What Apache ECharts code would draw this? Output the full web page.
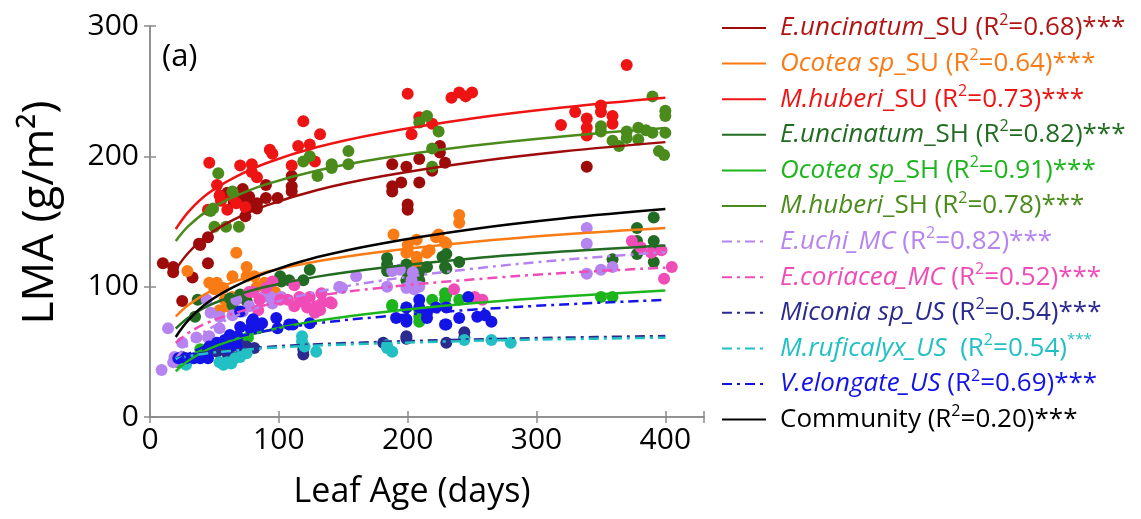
<!DOCTYPE html>
<html><head><meta charset="utf-8">
<script src="https://cdn.jsdelivr.net/npm/echarts@6/dist/echarts.min.js"></script>
<style>html,body{margin:0;padding:0;background:#fff}#c{width:1141px;height:519px}</style>
</head><body><div id="c"></div>
<script>
// ---------- DATA ----------
const xTicks = [0, 100, 200, 300, 400];
const yTicks = [0, 100, 200, 300];
const curveX = [20, 30, 45, 65, 90, 130, 180, 250, 320, 400];

const names = ['E.uncinatum_SU','Ocotea sp_SU','M.huberi_SU','E.uncinatum_SH','Ocotea sp_SH','M.huberi_SH',
  'E.uchi_MC','E.coriacea_MC','Miconia sp_US','M.ruficalyx_US','V.elongate_US','Community'];
const italicPart = ['E.uncinatum','Ocotea sp','M.huberi','E.uncinatum','Ocotea sp','M.huberi',
  'E.uchi_MC','E.coriacea_MC','Miconia sp_US','M.ruficalyx_US','V.elongate_US',''];
const plainPart = ['_SU','_SU','_SU','_SH','_SH','_SH','','','','','','Community'];
const r2 = ['0.68','0.64','0.73','0.82','0.91','0.78','0.82','0.52','0.54','0.54','0.69','0.20'];

// fitted curve values at curveX
const curveEuncSU = [113.1,126.2,139.6,151.4,162.2,174.2,184.7,195.5,203.7,210.9];
const curveOcoSU  = [77.1,86.2,95.5,103.7,111.2,119.5,126.8,134.3,140,145];
const curveMhubSU = [144.1,157.6,171.4,183.5,194.7,207.1,217.9,229,237.4,244.9];
const curveEuncSH = [67.9,76.4,85.2,92.8,99.9,107.7,114.5,121.6,126.9,131.6];
const curveOcoSH  = [35.1,43.4,51.9,59.3,66.2,73.8,80.4,87.3,92.4,97];
const curveMhubSH = [135,146.6,158.5,168.9,178.5,189.2,198.5,208.1,215.3,221.7];
const curveEuchi  = [44.9,55.8,67,76.8,85.9,96,104.7,113.7,120.5,126.5];
const curveEcori  = [56.9,64.6,72.5,79.5,85.9,93,99.2,105.5,110.4,114.6];
const curveMicon  = [45.1,47.4,49.7,51.8,53.7,55.8,57.6,59.5,60.9,62.1];
const curveMrufi  = [44.5,46.7,49,50.9,52.8,54.8,56.5,58.4,59.7,60.9];
const curveVelon  = [42,48.4,55,60.7,66,71.9,77,82.3,86.3,89.8];
const curveComm   = [61.4,74.5,88,99.8,110.6,122.7,133.2,144.1,152.3,159.5];

// observations [leaf age, LMA]
const ptsEuncSU = [[10,118],[18,115],[18,111],[38,133],[45,138],[45,118],[33,107],[25,89],[74,154],[72,175],[77,169],[83,164],[90,168],[90,178],[99,168],[110,185],[110,177],[110,173],[70,167],[76,162],[83,160],[39,132],[188,194],[188,177],[188,173],[195,180],[199,192],[200,163],[200,159],[209,198],[209,180],[219,189],[225,208],[225,203],[229,195],[339,192],[60,172],[65,165]];
const ptsOcoSU = [[29,112],[67,126],[46,103],[52,103],[50,98],[57,99],[58,90],[54,82],[64,108],[64,92],[70,92],[75,115],[75,108],[81,108],[83,100],[89,103],[97,96],[60,85],[189,140],[200,132],[200,127],[207,136],[207,123],[215,126],[222,138],[229,134],[207,119],[240,155],[240,149],[224,140],[230,133],[199,126],[217,128]];
const ptsMhubSU = [[46,195],[54,170],[55,166],[70,193],[79,194],[79,188],[83,184],[93,205],[95,202],[110,193],[115,208],[119,227],[124,209],[128,196],[132,217],[45,159],[60,159],[67,164],[74,161],[64,169],[52,178],[200,248],[209,230],[203,217],[219,225],[234,245],[240,249],[245,246],[250,249],[319,224],[330,234],[339,229],[339,222],[339,216],[350,239],[350,234],[359,231],[359,225],[370,270]];
const ptsEuncSH = [[37,90],[62,91],[70,94],[75,89],[102,104],[108,105],[101,108],[35,77],[64,86],[124,113],[119,105],[184,122],[184,117],[184,112],[199,117],[199,112],[199,105],[209,111],[209,105],[215,115],[227,123],[229,115],[230,125],[230,114],[240,119],[359,121],[378,145],[378,135],[378,125],[391,153],[391,135],[391,128],[391,119]];
const ptsOcoSH = [[39,52],[44,50],[67,59],[76,61],[22,42],[188,85],[188,86],[199,84],[209,82],[209,77],[209,73],[219,90],[229,95],[229,90],[230,94],[240,90],[350,92],[359,92]];
const ptsMhubSH = [[53,187],[64,173],[47,158],[49,160],[50,146],[59,146],[69,146],[119,196],[124,200],[130,185],[141,194],[141,191],[154,204],[154,194],[209,226],[215,231],[224,219],[219,206],[219,192],[390,246],[400,235],[400,231],[400,218],[395,204],[399,201],[350,223],[350,219],[359,212],[364,208],[370,219],[370,214],[379,222],[379,213],[390,218],[385,220]];
const ptsEuchi = [[9,36],[14,68],[19,46],[20,44],[25,57],[36,61],[45,61],[54,68],[54,77],[44,90],[64,78],[72,81],[77,85],[88,92],[94,92],[95,87],[102,92],[18,42],[46,62],[47,80],[67,90],[147,100],[160,108],[184,100],[209,100],[203,105],[149,99],[188,112],[194,113],[204,111],[205,98],[199,99],[339,145],[339,133],[339,110],[350,113],[359,115]];
const ptsEcori = [[80,96],[85,90],[90,99],[95,104],[101,90],[107,90],[112,101],[112,85],[84,82],[77,96],[116,92],[124,92],[122,84],[129,85],[133,95],[134,88],[132,82],[141,87],[128,80],[140,88],[119,88],[236,98],[252,92],[258,90],[374,135],[381,130],[389,126],[397,128],[399,106],[405,115]];
const ptsMicon = [[47,53],[56,55],[63,54],[70,55],[75,54],[81,53],[71,50],[60,49],[64,46],[45,52],[52,50],[25,46],[119,55],[119,52],[119,48],[199,62],[199,60],[230,57],[244,65],[244,61],[181,57]];
const ptsMrufi = [[54,42],[60,42],[66,45],[70,46],[57,40],[63,41],[28,40],[75,49],[118,62],[118,58],[120,54],[129,50],[184,55],[184,53],[188,50],[265,59],[280,57],[244,59]];
const ptsVelon = [[70,81],[79,73],[87,72],[70,69],[78,68],[84,68],[99,68],[108,71],[62,63],[68,62],[58,59],[52,57],[46,54],[39,45],[45,45],[34,45],[28,45],[22,45],[60,53],[67,55],[111,71],[124,72],[209,90],[209,84],[199,84],[191,76],[199,75],[215,76],[222,84],[229,71],[215,80],[199,73],[230,84],[230,71],[240,76],[247,92],[254,77],[260,78],[265,73],[98,76],[80,75]];

// ---------- STYLE ----------
const FONT = "'Open Sans', Lato, sans-serif";
const colors = ['#9e0b0b','#f97b16','#ee1414','#226b22','#1cb51c','#4b8b1b','#b684f0','#f04cb8','#2b2b8f','#22c0c4','#1414e6','#000000'];
const textColors = ['#b01515','#f97b16','#ee1414','#226b22','#1cb51c','#4b8b1b','#b684f0','#f04cb8','#2b2b8f','#22c0c4','#1414e6','#000000'];
const dashed = [false,false,false,false,false,false,true,true,true,true,true,false];
const curves = [curveEuncSU,curveOcoSU,curveMhubSU,curveEuncSH,curveOcoSH,curveMhubSH,curveEuchi,curveEcori,curveMicon,curveMrufi,curveVelon,curveComm];
const points = [ptsEuncSU,ptsOcoSU,ptsMhubSU,ptsEuncSH,ptsOcoSH,ptsMhubSH,ptsEuchi,ptsEcori,ptsMicon,ptsMrufi,ptsVelon,null];

const series = [];
points.forEach((p, i) => {
  if (!p) return;
  series.push({
    type: 'scatter', name: names[i] + ' obs', data: p, symbolSize: 12, z: 2,
    itemStyle: { color: colors[i], opacity: 1 }, silent: true
  });
});
curves.forEach((c, i) => {
  series.push({
    type: 'line', name: names[i], data: curveX.map((x, k) => [x, c[k]]),
    symbol: 'none', smooth: 0.4, z: 4, silent: true,
    lineStyle: { color: colors[i], width: 2.5, type: dashed[i] ? [10, 5, 3, 5] : 'solid' },
    itemStyle: { color: colors[i] }
  });
});

function legendText(i) {
  let s = '';
  if (italicPart[i]) s += '{it|' + italicPart[i] + '}';
  if (plainPart[i]) s += '{n|' + plainPart[i] + '}';
  s += '{n|' + (i === 9 ? '  (R' : ' (R') + '}{sup|2}{n|=' + r2[i] + ')}';
  s += i === 9 ? '{sts|***}' : '{st|***}';
  return s;
}

const LFS = 26;
const legends = names.map((nm, i) => {
  const col = textColors[i];
  const base = { color: col, fontFamily: FONT, fontSize: LFS, lineHeight: 32 };
  return {
    orient: 'vertical', left: 716, top: 7 + i * 35.6, itemGap: 0,
    itemWidth: 44, itemHeight: 14, selectedMode: false,
    itemStyle: { color: 'rgba(0,0,0,0)', opacity: 0, borderWidth: 0 },
    data: [nm],
    formatter: () => legendText(i),
    textStyle: {
      color: col, fontFamily: FONT, fontSize: LFS, padding: [0, 0, 0, 9],
      rich: {
        it: Object.assign({}, base, { fontStyle: 'italic' }),
        n: Object.assign({}, base),
        sup: { color: col, fontFamily: FONT, fontSize: 16, lineHeight: 22, verticalAlign: 'top' },
        st: Object.assign({}, base),
        sts: { color: col, fontFamily: FONT, fontSize: 15, lineHeight: 18, verticalAlign: 'top' }
      }
    }
  };
});

const axisLineStyle = { color: '#8a8a8a', width: 1.5 };
const option = {
  animation: false,
  backgroundColor: '#fff',
  title: { text: '(a)', left: 157, top: 37, textStyle: { fontFamily: FONT, fontSize: 31, fontWeight: 'normal', color: '#000' } },
  grid: { left: 150, top: 26, right: 437, bottom: 102 },
  legend: legends,
  xAxis: [{
    type: 'value', min: 0, max: 430, interval: 100, position: 'bottom',
    name: 'Leaf Age (days)', nameLocation: 'middle', nameGap: 58,
    nameTextStyle: { fontFamily: FONT, fontSize: 34, color: '#000', padding: [0, 30, 0, 0] },
    axisLine: { show: true, lineStyle: axisLineStyle },
    axisTick: { show: true, inside: true, length: 6, lineStyle: axisLineStyle },
    axisLabel: { fontFamily: FONT, fontSize: 30, color: '#000', margin: 8,
      formatter: v => xTicks.indexOf(v) >= 0 ? String(v) : '' },
    splitLine: { show: false }
  }, {
    type: 'value', min: 0, max: 430, interval: 100, position: 'top',
    axisLine: { show: true, lineStyle: axisLineStyle },
    axisTick: { show: true, inside: true, length: 6, lineStyle: axisLineStyle },
    axisLabel: { show: false }, splitLine: { show: false }
  }],
  yAxis: [{
    type: 'value', min: 0, max: 300, interval: 100, position: 'left',
    name: 'LMA (g/m²)', nameLocation: 'middle', nameGap: 88,
    nameTextStyle: { fontFamily: FONT, fontSize: 44, color: '#000', padding: [0, 0, 0, 18] },
    axisLine: { show: true, lineStyle: axisLineStyle },
    axisTick: { show: true, inside: true, length: 6, lineStyle: axisLineStyle },
    axisLabel: { fontFamily: FONT, fontSize: 30, color: '#000', margin: 11,
      formatter: v => yTicks.indexOf(v) >= 0 ? String(v) : '' },
    splitLine: { show: false }
  }, {
    type: 'value', min: 0, max: 300, interval: 100, position: 'right',
    axisLine: { show: true, lineStyle: axisLineStyle },
    axisTick: { show: true, inside: true, length: 6, lineStyle: axisLineStyle },
    axisLabel: { show: false }, splitLine: { show: false }
  }],
  series: series
};
const chart = echarts.init(document.getElementById('c'), null, { renderer: 'canvas' });
chart.setOption(option);
</script></body></html>
